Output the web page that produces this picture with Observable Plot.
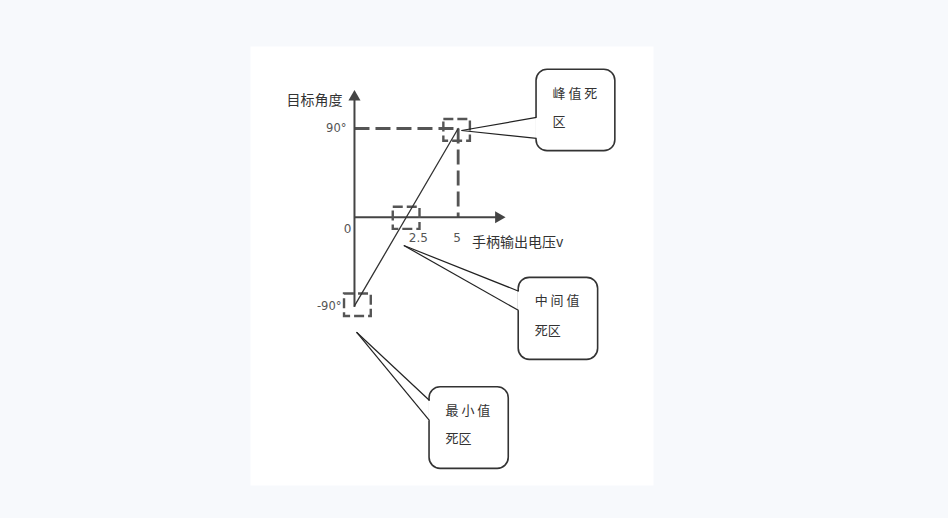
<!DOCTYPE html>
<html>
<head>
<meta charset="utf-8">
<script src="https://cdn.jsdelivr.net/npm/d3@7"></script>
<script src="https://cdn.jsdelivr.net/npm/@observablehq/plot@0.6"></script>
<style>
  html, body { margin: 0; padding: 0; background: #f7f9fc; }
  #chart svg { display: block; }
</style>
</head>
<body>
<div id="chart"></div>
<script>
// ---- data ----
const xTickValues = [2.5, 5];
const xTickLabels = ["2.5", "5"];
const yTickValues = [90, -90];
const yTickLabels = ["90°", "-90°"];
const originLabel = "0";
const xAxisTitle = "手柄输出电压v";
const yAxisTitle = "目标角度";
const curveVoltage = [0, 5];
const curveAngle = [-90, 90];
const peakVoltage = 5;
const peakAngle = 90;
const xAxisMax = 6.95;
const yAxisMax = 122;
const yAxisMin = -91;
// dead-zone boxes (data units)
const zoneNames = ["峰值死区", "中间值死区", "最小值死区"];
const zoneX1 = [4.31, 1.87, -0.48];
const zoneX2 = [5.59, 3.16, 0.81];
const zoneY1 = [77.1, -12.3, -100.8];
const zoneY2 = [99.1, 10.1, -77.9];
// callouts
const calloutLine1 = ["峰 值 死", "中 间 值", "最 小 值"];
const calloutLine2 = ["区", "死区", "死区"];
const calloutX1 = [8.78, 7.92, 3.62];
const calloutX2 = [12.58, 11.75, 7.44];
const calloutTop = [149.6, -61.5, -172.5];
const calloutBottom = [67.0, -144.7, -255.3];
const pointerBaseTop = [101.2, -75.1, -186.0];
const pointerBaseBottom = [79.9, -94.7, -206.3];
const pointerTipX = [5.16, 2.38, 0.1];
const pointerTipY = [88.0, -28.7, -116.7];
const textLine1Y = [125.5, -85.2, -196.8];
const textLine2Y = [96.4, -115.0, -224.8];

// ---- derived tables ----
const zones = zoneNames.map((n, i) => ({n, x1: zoneX1[i], x2: zoneX2[i], y1: zoneY1[i], y2: zoneY2[i]}));
const callouts = calloutLine1.map((t, i) => ({
  t1: t, t2: calloutLine2[i],
  x1: calloutX1[i], x2: calloutX2[i], y1: calloutBottom[i], y2: calloutTop[i],
  bt: pointerBaseTop[i], bb: pointerBaseBottom[i],
  tx: pointerTipX[i], ty: pointerTipY[i],
  l1: textLine1Y[i], l2: textLine2Y[i]
}));
const pointerLines = callouts.flatMap(c => [
  {x1: c.x1, y1: c.bt, x2: c.tx, y2: c.ty},
  {x1: c.x1, y1: c.bb, x2: c.tx, y2: c.ty}
]);
const curve = curveVoltage.map((v, i) => ({v, a: curveAngle[i]}));
const xTicks = xTickValues.map((v, i) => ({v, label: xTickLabels[i]}));
const yTicks = yTickValues.map((v, i) => ({v, label: yTickLabels[i]}));

const CJK = "'Noto Sans CJK SC', 'Noto Sans', sans-serif";
const NUM = "'DejaVu Sans', Verdana, sans-serif";

const chart = Plot.plot({
  width: 948,
  height: 518,
  marginLeft: 250,
  marginRight: 295,
  marginTop: 46,
  marginBottom: 33,
  style: {background: "#f7f9fc", overflow: "visible"},
  x: {axis: null, domain: [-5.014, 14.42]},
  y: {axis: null, domain: [-272.2, 173.2]},
  marks: [
    Plot.frame({fill: "white", stroke: "none"}),
    // guide dashed lines at peak
    Plot.link([{}], {x1: 0, x2: peakVoltage, y1: peakAngle, y2: peakAngle, stroke: "#555", strokeWidth: 2.8, strokeDasharray: "15,6"}),
    Plot.link([{}], {x1: peakVoltage, x2: peakVoltage, y1: peakAngle, y2: 0, stroke: "#555", strokeWidth: 2.8, strokeDasharray: "15,6"}),
    // axes
    Plot.link([{}], {x1: 0, x2: 0, y1: yAxisMin, y2: yAxisMax, stroke: "#444", strokeWidth: 2}),
    Plot.link([{}], {x1: 0, x2: xAxisMax, y1: 0, y2: 0, stroke: "#444", strokeWidth: 2}),
    Plot.dot([{}], {x: 0, y: yAxisMax, symbol: "triangle", r: 4.5, fill: "#444", stroke: "none"}),
    Plot.dot([{}], {x: xAxisMax, y: 0, symbol: "triangle", r: 4.5, rotate: 90, fill: "#444", stroke: "none"}),
    // dead-zone dashed boxes
    Plot.rect(zones, {x1: "x1", x2: "x2", y1: "y1", y2: "y2", fill: "none", stroke: "#555", strokeWidth: 2.4, strokeDasharray: "10,4"}),
    // characteristic line
    Plot.line(curve, {x: "v", y: "a", stroke: "#333", strokeWidth: 1.3}),
    // tick labels
    Plot.text(xTicks.filter(d => d.v === 2.5), {x: "v", y: 0, text: "label", dy: 21, dx: 12, fontSize: 12, fill: "#555", fontFamily: NUM}),
    Plot.text(xTicks.filter(d => d.v !== 2.5), {x: "v", y: 0, text: "label", dy: 21, dx: -1, fontSize: 12, fill: "#555", fontFamily: NUM}),
    Plot.text(yTicks.filter(d => d.v > 0), {x: 0, y: "v", text: "label", dx: -8, textAnchor: "end", fontSize: 11.5, fill: "#555", fontFamily: NUM}),
    Plot.text(yTicks.filter(d => d.v < 0), {x: 0, y: "v", text: "label", dx: -13, textAnchor: "end", fontSize: 11.5, fill: "#555", fontFamily: NUM}),
    Plot.text([originLabel], {x: 0, y: 0, text: d => d, dx: -7, dy: 12, fontSize: 12, fill: "#555", fontFamily: NUM}),
    // axis titles
    Plot.text([xAxisTitle], {x: 5.67, y: 0, text: d => d, dy: 25, textAnchor: "start", fontSize: 14, fill: "#333", fontFamily: CJK}),
    Plot.text([yAxisTitle], {x: 0, y: 118.4, text: d => d, dx: -12, textAnchor: "end", fontSize: 14, fill: "#333", fontFamily: CJK}),
    // callouts
    Plot.rect(callouts, {x1: "x1", x2: "x2", y1: "y1", y2: "y2", rx: 11, fill: "white", stroke: "#333", strokeWidth: 1.6}),
    Plot.link(callouts, {x1: "x1", x2: "x1", y1: "bt", y2: "bb", stroke: "white", strokeWidth: 3}),
    Plot.link(pointerLines, {x1: "x1", y1: "y1", x2: "x2", y2: "y2", stroke: "#222", strokeWidth: 1.2}),
    Plot.text(callouts, {x: "x1", y: "l1", text: "t1", dx: 16, textAnchor: "start", fontSize: 13, fill: "#333", fontFamily: CJK, style: "word-spacing: 2px"}),
    Plot.text(callouts, {x: "x1", y: "l2", text: "t2", dx: 16, textAnchor: "start", fontSize: 13, fill: "#333", fontFamily: CJK})
  ]
});
document.getElementById("chart").appendChild(chart);
</script>
</body>
</html>
